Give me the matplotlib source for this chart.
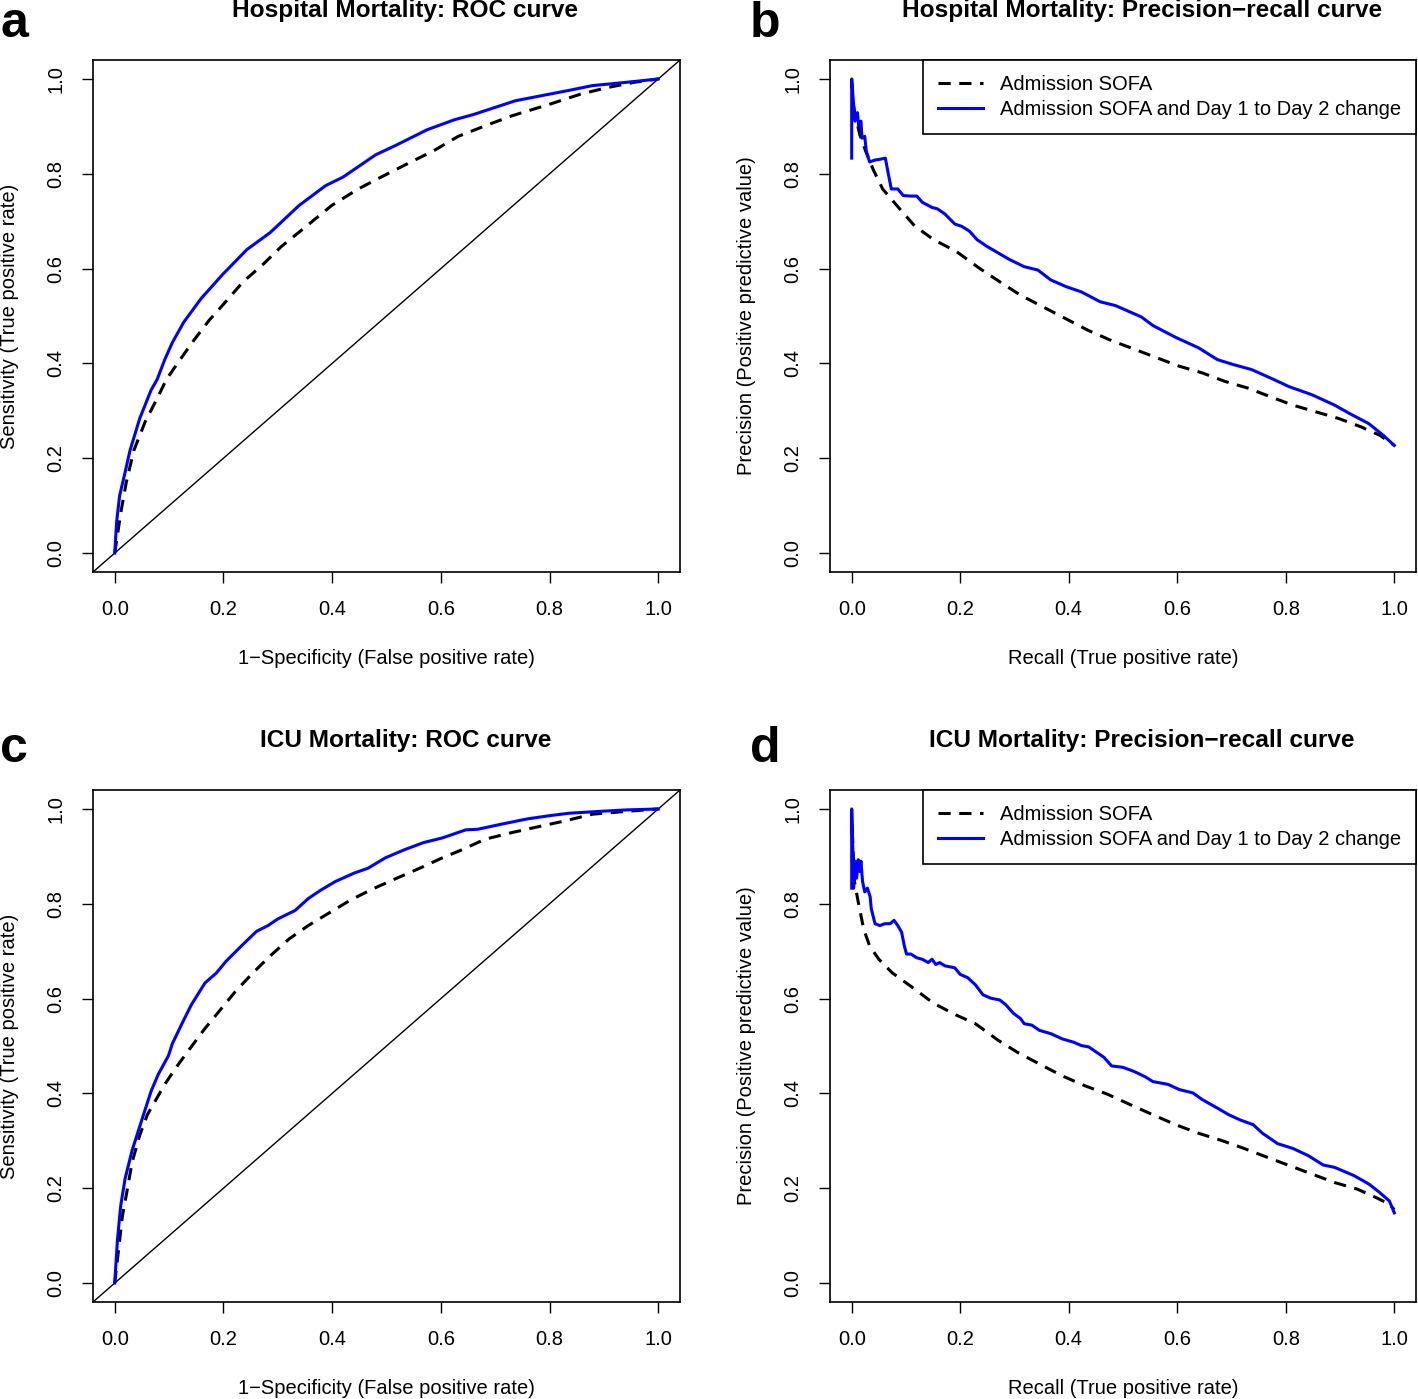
import matplotlib
matplotlib.use("Agg")
import matplotlib.pyplot as plt
from matplotlib.lines import Line2D

plt.rcParams['font.family'] = ['Liberation Sans', 'DejaVu Sans']

# ---------------- data ----------------
# Hospital mortality ROC
hosp_roc_base_fpr = [0.0, 0.011, 0.021, 0.035, 0.056, 0.078, 0.095, 0.116, 0.145, 0.173, 0.201, 0.236, 0.272,
                     0.307, 0.349, 0.399, 0.448, 0.49, 0.533, 0.589, 0.632, 0.688, 0.73, 0.801, 0.857, 0.907,
                     0.956, 1.0]
hosp_roc_base_tpr = [0.0, 0.084, 0.148, 0.216, 0.277, 0.326, 0.366, 0.401, 0.448, 0.49, 0.526, 0.572, 0.608,
                     0.647, 0.686, 0.733, 0.768, 0.793, 0.818, 0.85, 0.879, 0.904, 0.922, 0.947, 0.968, 0.982,
                     0.993, 1.0]
hosp_roc_chg_fpr = [0.0, 0.0035, 0.009, 0.019, 0.028, 0.046, 0.067, 0.078, 0.092, 0.106, 0.127, 0.159, 0.198,
                    0.243, 0.286, 0.339, 0.388, 0.42, 0.48, 0.519, 0.575, 0.625, 0.66, 0.737, 0.80, 0.836,
                    0.879, 0.942, 1.0]
hosp_roc_chg_tpr = [0.0, 0.066, 0.121, 0.17, 0.216, 0.284, 0.344, 0.366, 0.408, 0.444, 0.487, 0.537, 0.587,
                    0.640, 0.676, 0.733, 0.775, 0.793, 0.84, 0.861, 0.893, 0.914, 0.925, 0.954, 0.968, 0.976,
                    0.986, 0.993, 1.0]

# Hospital mortality precision-recall
hosp_pr_base_rec = [0.0035, 0.005, 0.015, 0.026, 0.04, 0.057, 0.0885, 0.116, 0.151, 0.193, 0.235, 0.277, 0.311,
                    0.353, 0.395, 0.437, 0.479, 0.521, 0.562, 0.604, 0.646, 0.688, 0.73, 0.771, 0.813, 0.855,
                    0.897, 0.939, 0.974, 1.0]
hosp_pr_base_prec = [0.943, 0.932, 0.882, 0.847, 0.808, 0.768, 0.726, 0.69, 0.661, 0.636, 0.601, 0.569, 0.544,
                     0.519, 0.494, 0.469, 0.448, 0.43, 0.412, 0.394, 0.38, 0.362, 0.348, 0.33, 0.312, 0.298,
                     0.284, 0.266, 0.248, 0.227]
hosp_pr_chg_rec = [0.0, 0.0, 0.0035, 0.006, 0.0105, 0.013, 0.017, 0.019, 0.024, 0.027, 0.033, 0.043, 0.054, 0.062,
                   0.068, 0.073, 0.085, 0.095, 0.109, 0.12, 0.13, 0.148, 0.158, 0.172, 0.19, 0.203, 0.217,
                   0.231, 0.249, 0.27, 0.291, 0.318, 0.343, 0.367, 0.395, 0.423, 0.458, 0.486, 0.534, 0.555,
                   0.597, 0.639, 0.674, 0.702, 0.737, 0.778, 0.806, 0.848, 0.89, 0.918, 0.953, 0.98, 1.0]
hosp_pr_chg_prec = [0.833, 1.0, 0.947, 0.911, 0.929, 0.90, 0.911, 0.875, 0.879, 0.847, 0.825, 0.829, 0.831, 0.833,
                    0.797, 0.768, 0.768, 0.754, 0.753, 0.753, 0.74, 0.729, 0.726, 0.715, 0.694, 0.689, 0.679,
                    0.661, 0.647, 0.633, 0.619, 0.604, 0.597, 0.576, 0.562, 0.551, 0.53, 0.522, 0.498, 0.48,
                    0.455, 0.433, 0.408, 0.398, 0.387, 0.366, 0.351, 0.334, 0.312, 0.294, 0.273, 0.248, 0.227]

# ICU mortality ROC
icu_roc_base_fpr = [0.0, 0.007, 0.014, 0.021, 0.032, 0.046, 0.06, 0.074, 0.092, 0.113, 0.138, 0.166, 0.194,
                    0.222, 0.254, 0.286, 0.321, 0.356, 0.392, 0.434, 0.476, 0.519, 0.561, 0.603, 0.639, 0.681,
                    0.73, 0.773, 0.829, 0.879, 0.942, 1.0]
icu_roc_base_tpr = [0.0, 0.07, 0.141, 0.184, 0.255, 0.312, 0.355, 0.383, 0.419, 0.455, 0.494, 0.537, 0.576,
                    0.615, 0.654, 0.69, 0.726, 0.754, 0.779, 0.808, 0.832, 0.854, 0.875, 0.897, 0.914, 0.936,
                    0.95, 0.961, 0.975, 0.989, 0.995, 1.0]
icu_roc_chg_fpr = [0.0, 0.005, 0.011, 0.019, 0.032, 0.049, 0.067, 0.080, 0.099, 0.106, 0.127, 0.141, 0.166,
                   0.187, 0.205, 0.233, 0.261, 0.282, 0.30, 0.332, 0.356, 0.378, 0.406, 0.441, 0.466, 0.498,
                   0.533, 0.568, 0.603, 0.646, 0.667, 0.716, 0.759, 0.801, 0.836, 0.893, 0.942, 1.0]
icu_roc_chg_tpr = [0.0, 0.091, 0.163, 0.22, 0.28, 0.341, 0.405, 0.44, 0.48, 0.505, 0.555, 0.587, 0.633,
                   0.654, 0.679, 0.711, 0.742, 0.754, 0.768, 0.786, 0.811, 0.828, 0.847, 0.865, 0.875, 0.897,
                   0.914, 0.929, 0.939, 0.956, 0.957, 0.969, 0.979, 0.986, 0.991, 0.995, 0.998, 1.0]

# ICU mortality precision-recall
icu_pr_base_rec = [0.001, 0.005, 0.012, 0.022, 0.033, 0.05, 0.075, 0.109, 0.151, 0.193, 0.228, 0.27, 0.305,
                   0.346, 0.388, 0.43, 0.472, 0.514, 0.555, 0.597, 0.639, 0.681, 0.723, 0.764, 0.806, 0.848,
                   0.89, 0.932, 0.967, 0.991, 1.0]
icu_pr_base_prec = [0.954, 0.847, 0.804, 0.747, 0.711, 0.683, 0.654, 0.626, 0.59, 0.565, 0.547, 0.512, 0.487,
                    0.462, 0.437, 0.416, 0.398, 0.376, 0.355, 0.334, 0.316, 0.301, 0.284, 0.266, 0.248, 0.23,
                    0.212, 0.198, 0.18, 0.166, 0.155]
icu_pr_chg_rec = [0.0, 0.0, 0.002, 0.0035, 0.006, 0.009, 0.012, 0.015, 0.017, 0.02, 0.024, 0.029, 0.034, 0.036,
                  0.043, 0.052, 0.061, 0.071, 0.078, 0.085, 0.092, 0.097, 0.101, 0.109, 0.12, 0.13, 0.141,
                  0.148, 0.155, 0.162, 0.172, 0.19, 0.2, 0.214, 0.228, 0.242, 0.256, 0.273, 0.284, 0.298,
                  0.311, 0.318, 0.332, 0.346, 0.367, 0.388, 0.409, 0.423, 0.437, 0.451, 0.465, 0.479, 0.5,
                  0.521, 0.541, 0.555, 0.583, 0.604, 0.629, 0.646, 0.674, 0.695, 0.716, 0.74, 0.757, 0.785,
                  0.813, 0.841, 0.869, 0.89, 0.925, 0.953, 0.973, 0.991, 1.0]
icu_pr_chg_prec = [0.833, 1.0, 0.918, 0.833, 0.89, 0.854, 0.893, 0.868, 0.89, 0.847, 0.825, 0.833, 0.815, 0.79,
                   0.758, 0.754, 0.758, 0.758, 0.765, 0.754, 0.74, 0.711, 0.694, 0.694, 0.686, 0.683, 0.676,
                   0.683, 0.672, 0.676, 0.669, 0.665, 0.651, 0.644, 0.629, 0.608, 0.601, 0.597, 0.587, 0.569,
                   0.558, 0.547, 0.544, 0.533, 0.526, 0.515, 0.508, 0.501, 0.498, 0.487, 0.476, 0.458, 0.455,
                   0.446, 0.435, 0.425, 0.419, 0.408, 0.401, 0.387, 0.369, 0.355, 0.344, 0.334, 0.316, 0.294,
                   0.284, 0.269, 0.249, 0.244, 0.227, 0.209, 0.191, 0.173, 0.148]

ticks = [0.0, 0.2, 0.4, 0.6, 0.8, 1.0]
tick_labels = ["0.0", "0.2", "0.4", "0.6", "0.8", "1.0"]
legend_labels = ["Admission SOFA", "Admission SOFA and Day 1 to Day 2 change"]
titles = ["Hospital Mortality: ROC curve", "Hospital Mortality: Precision\u2212recall curve",
          "ICU Mortality: ROC curve", "ICU Mortality: Precision\u2212recall curve"]
letters = ["a", "b", "c", "d"]

# ---------------- figure ----------------
W, H = 1418, 1399
fig = plt.figure(figsize=(W / 100, H / 100), dpi=100)

def px_axes(x0, y0, x1, y1):
    return fig.add_axes([x0 / W, 1 - y1 / H, (x1 - x0) / W, (y1 - y0) / H])

boxes = [(93, 60, 680, 572), (830, 60, 1416, 572), (93, 790, 680, 1302), (830, 790, 1416, 1302)]
FS = 14.5
TFS = 17.6
LW = 2.2
dash = (0, (4, 2.8))

def style(ax, box, title, xlabel, ylabel):
    ax.set_xlim(-0.04, 1.04)
    ax.set_ylim(-0.04, 1.04)
    ax.set_xticks(ticks)
    ax.set_xticklabels(tick_labels)
    ax.set_yticks(ticks)
    ax.set_yticklabels(tick_labels, rotation=90, va='center')
    ax.tick_params(direction='out', length=8, width=1.0, labelsize=FS, pad=12, color='black')
    for s in ax.spines.values():
        s.set_linewidth(1.2)
    x0, y0, x1, y1 = box
    w = x1 - x0
    h = y1 - y0
    ax.text(0.5 + 19 / w, 1 + 50 / h, title, transform=ax.transAxes, ha='center', va='center',
            fontsize=TFS, fontweight='bold')
    ax.text(0.5, -(658 - 572) / h, xlabel, transform=ax.transAxes, ha='center', va='center', fontsize=FS)
    ax.text(-83 / w, 0.5, ylabel, transform=ax.transAxes, ha='center', va='center',
            rotation=90, fontsize=FS)

axes = [px_axes(*b) for b in boxes]

# a: hospital ROC
ax = axes[0]
ax.axline((0, 0), (1, 1), color='black', lw=1.0)
ax.plot(hosp_roc_base_fpr, hosp_roc_base_tpr, color='black', lw=LW, linestyle=dash)
ax.plot(hosp_roc_chg_fpr, hosp_roc_chg_tpr, color='#0000FF', lw=LW)
style(ax, boxes[0], titles[0], "1\u2212Specificity (False positive rate)", "Sensitivity (True positive rate)")

# b: hospital PR
ax = axes[1]
ax.plot(hosp_pr_base_rec, hosp_pr_base_prec, color='black', lw=LW, linestyle=dash)
ax.plot(hosp_pr_chg_rec, hosp_pr_chg_prec, color='#0000FF', lw=LW)
style(ax, boxes[1], titles[1], "Recall (True positive rate)", "Precision (Positive predictive value)")

# c: ICU ROC
ax = axes[2]
ax.axline((0, 0), (1, 1), color='black', lw=1.0)
ax.plot(icu_roc_base_fpr, icu_roc_base_tpr, color='black', lw=LW, linestyle=dash)
ax.plot(icu_roc_chg_fpr, icu_roc_chg_tpr, color='#0000FF', lw=LW)
style(ax, boxes[2], titles[2], "1\u2212Specificity (False positive rate)", "Sensitivity (True positive rate)")

# d: ICU PR
ax = axes[3]
ax.plot(icu_pr_base_rec, icu_pr_base_prec, color='black', lw=LW, linestyle=dash)
ax.plot(icu_pr_chg_rec, icu_pr_chg_prec, color='#0000FF', lw=LW)
style(ax, boxes[3], titles[3], "Recall (True positive rate)", "Precision (Positive predictive value)")

# legends for PR panels
for ax in (axes[1], axes[3]):
    handles = [Line2D([], [], color='black', lw=LW, linestyle=dash),
               Line2D([], [], color='#0000FF', lw=LW)]
    leg = ax.legend(handles, legend_labels, loc='upper right', borderaxespad=0, fancybox=False,
                    framealpha=1, edgecolor='black', fontsize=FS, handlelength=2.2, handletextpad=0.85,
                    borderpad=0.75, labelspacing=0.3)
    leg.get_frame().set_linewidth(1.2)

# panel letters
for (lx, ly), letter in zip([(0, 37), (750, 37), (0, 762), (750, 762)], letters):
    fig.text(lx / W, 1 - ly / H, letter, fontsize=36, fontweight='bold', ha='left', va='baseline')

fig.savefig("out.png", dpi=100)
